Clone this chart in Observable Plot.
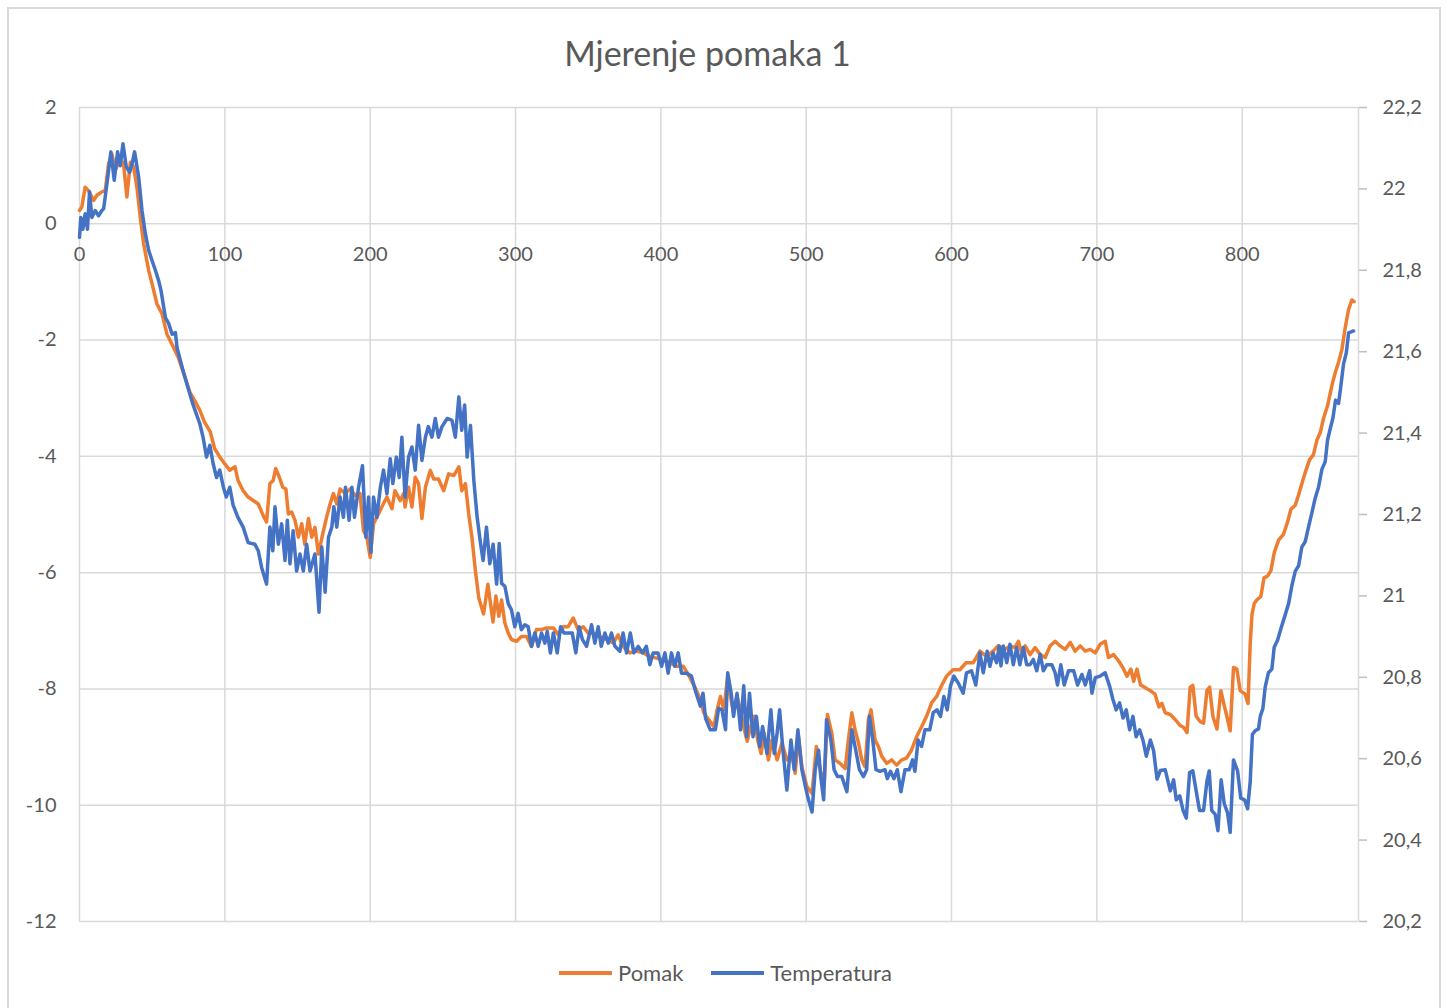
<!DOCTYPE html>
<html><head><meta charset="utf-8">
<script src="https://cdn.jsdelivr.net/npm/d3@7"></script>
<script src="https://cdn.jsdelivr.net/npm/@observablehq/plot@0.6"></script>
<style>
body{margin:0;background:#fff;font-family:Lato,"Open Sans",sans-serif;width:1448px;height:1008px;overflow:hidden;position:relative;}
#frame{position:absolute;left:7px;top:7px;width:1434px;height:1020px;border:2px solid #d9d9d9;box-sizing:border-box;}
#title{position:absolute;left:0;width:1415px;top:36px;text-align:center;font-size:34px;line-height:34px;color:#595959;}
#chart{position:absolute;left:0;top:0;}
#legend{position:absolute;left:559px;top:961px;display:flex;align-items:center;font-size:22px;line-height:24px;color:#595959;}
.sw{width:53px;height:3.5px;margin-right:6px;}
.item{display:flex;align-items:center;margin-right:28px;}
</style></head>
<body>
<div id="frame"></div>
<div id="chart"></div>
<div id="title">Mjerenje pomaka 1</div>
<div id="legend"></div>
<script>
const seriesNames = ["Pomak", "Temperatura"];
const seriesColors = ["#ED7D31", "#4472C4"];
const xTicks = [0, 100, 200, 300, 400, 500, 600, 700, 800];
const yTicks = [-12, -10, -8, -6, -4, -2, 0, 2];
const tempTicks = [20.2, 20.4, 20.6, 20.8, 21, 21.2, 21.4, 21.6, 21.8, 22, 22.2];

// Pomak: [x, pomak]
const pomak = [
[0,0.23],[1.6,0.29],[3.9,0.63],[6.2,0.57],[9.7,0.40],[12,0.49],[15.4,0.55],[17.7,0.57],[20,1.03],[22.3,1.20],[24.6,0.92],[28,1.12],[30.3,1.03],[32.6,0.46],[35,1.06],[37.2,0.98],[39.5,0.63],[41.8,0.11],[44.1,-0.34],[47.6,-0.80],[49.9,-1.03],[53.3,-1.38],[56.8,-1.55],[60.2,-1.90],[64.8,-2.13],[68,-2.3],[72,-2.6],[76,-2.9],[79.5,-3.05],
[82.8,-3.21],[86,-3.41],[90,-3.58],[93,-3.87],[96.5,-4.01],[100,-4.13],[103.4,-4.24],[107,-4.18],[109,-4.41],[112.6,-4.59],[116,-4.70],[119.5,-4.76],[123,-4.82],[126.4,-5.02],[128.7,-5.13],[131,-4.47],[133.3,-4.41],[135,-4.21],[137.5,-4.36],[139.8,-4.53],[142,-4.56],[143.7,-4.99],[146,-4.96],[148.3,-5.10],[150.6,-5.39],[152.9,-5.16],[155,-5.51],[157.5,-5.07],[159.8,-5.39],[162,-5.22],[164.4,-5.68],[167.4,-5.33],[170,-5.05],[172.4,-4.82],[174.7,-4.64],[177,-4.82],[179.3,-4.56],[182.8,-4.64],[186.2,-4.56],[189.7,-4.67],[193,-4.64],[195.4,-5.28],[197.7,-5.39],[200,-5.74],[202.3,-5.16],[205.7,-4.99],[209,-4.82],[211.5,-4.70],[215,-4.90],[217,-4.59],[220.7,-4.76],[223,-4.64],[224,-4.87],[226.4,-4.53],[228.7,-4.87],[231,-4.36],[233.3,-4.47],[235.6,-5.07],[238,-4.53],[241.4,-4.24],[243.7,-4.39],[247,-4.39],[250.6,-4.59],[254,-4.30],[257.5,-4.33],[261,-4.18],[263,-4.59],[265.5,-4.47],[267.8,-4.99],[270,-5.39],[272.4,-5.97],[274.7,-6.43],[278,-6.71],[281,-6.2],[284.5,-6.85],[286.5,-6.4],[288.5,-6.75],[290.4,-6.47],[292.7,-6.87],[295,-7.04],[297.2,-7.15],[300.7,-7.18],[304,-7.10],[307.6,-7.10],[311,-7.27],[314.4,-6.98],[318,-6.98],[321.3,-6.95],[326,-6.95],[329.4,-7.07],[332.8,-6.93],[336.2,-6.93],[339.7,-6.78],[343,-6.98],[346.6,-6.93],[350,-7.04],[353.4,-7.04],[358,-7.10],[362.6,-7.15],[367.2,-7.21],[370.6,-7.07],[374,-7.27],[378.7,-7.38],[383.3,-7.35],[387.8,-7.38],[392.4,-7.44],[397,-7.47],[401.6,-7.50],[406,-7.55],[410.8,-7.61],[415.4,-7.61],[418.8,-7.75],[423,-7.95],
[427.2,-8.18],[429.5,-8.41],[433,-8.53],[436.4,-8.65],[438.7,-8.36],[441,-8.13],[443.3,-8.36],[446,-7.78],[447.9,-8.13],[450,-8.41],[452.4,-8.13],[454.8,-8.36],[457,-8.65],[459.4,-8.90],[461.7,-8.65],[464.3,-8.47],[466.6,-8.88],[469,-9.11],[471,-8.76],[474,-9.22],[476.4,-8.88],[480,-9.22],[483.3,-8.93],[486.7,-9.22],[490,-9.11],[492.4,-9.45],[494.7,-8.82],[497,-9.34],[500.5,-9.68],[504,-9.80],[507,-8.99],[509.6,-9.39],[512.4,-9.63],[514.6,-8.44],[517.6,-8.76],[519.9,-9.22],[523.3,-9.28],[526.8,-9.37],[529,-8.88],[531.4,-8.41],[533.6,-8.70],[536,-8.93],[538.2,-9.22],[540.5,-9.34],[542.8,-8.53],[544.6,-8.36],[547.4,-8.88],[549.7,-8.99],[552,-9.16],[555.4,-9.28],[558.8,-9.22],[562.2,-9.31],[565.7,-9.22],[569,-9.19],[572.5,-9.05],[576,-8.82],[579.4,-8.65],[582.8,-8.47],[586.3,-8.24],[589.7,-8.13],[593,-7.95],[596.6,-7.78],[601,-7.67],[605.7,-7.67],[610,-7.55],[614.9,-7.55],[619.5,-7.35],[624,-7.44],[628.6,-7.35],[632,-7.26],
[636.8,-7.32],[640.2,-7.26],[643.7,-7.29],[646,-7.18],[648.3,-7.38],[650.6,-7.26],[654,-7.41],[657.5,-7.29],[661,-7.41],[664.4,-7.46],[667.8,-7.26],[671.3,-7.18],[674.7,-7.26],[678.2,-7.32],[681.6,-7.20],[685,-7.35],[688.5,-7.26],[692,-7.35],[695.4,-7.32],[698.9,-7.38],[702.3,-7.23],[705.7,-7.18],[708,-7.46],[711.5,-7.41],[715,-7.52],[718,-7.64],[720.7,-7.78],[723.4,-7.66],[725.3,-7.87],[727.6,-7.66],[730,-7.93],[733.3,-7.98],[736.8,-8.03],
[740,-8.09],[742.7,-8.31],[744.7,-8.25],[747,-8.41],[750.5,-8.44],[754,-8.53],[757.3,-8.63],[759.6,-8.66],[762,-8.75],[764.2,-7.97],[766,-7.94],[768.3,-8.47],[771,-8.56],[773.4,-8.59],[775.7,-8.03],[777.5,-7.97],[779.8,-8.47],[782.6,-8.69],[785.3,-8.03],[787,-8.22],[789.4,-8.47],[791.7,-8.72],[794,-7.63],[796.3,-7.66],[798.6,-8.03],[802,-8.09],[804,-8.25],[805.5,-7.22],[806.7,-6.72],[808.3,-6.53],[810,-6.47],[812.8,-6.41],[815,-6.09],[817.4,-6.06],[819.7,-5.97],[822,-5.66],[825,-5.44],[828.4,-5.34],[831.2,-5.13],[833.5,-4.91],[836.5,-4.84],[838.8,-4.66],[841,-4.47],[843.3,-4.28],[846.3,-4.06],[849,-3.97],[851.4,-3.72],[853.7,-3.59],[856,-3.34],[858.7,-3.13],[861.7,-2.78],[864,-2.56],[866.3,-2.38],[868.6,-2.16],[870.9,-1.78],[873.2,-1.47],[875.5,-1.31],[877,-1.34]
];

// Temperatura: [x, °C]
const temperatura = [
[0,21.881],[0.9,21.930],[2.3,21.901],[3.9,21.939],[5.5,21.901],[6.9,21.993],[8.5,21.930],[10.8,21.947],[13.1,21.934],[15.4,21.947],[16.6,21.951],[18.9,22.013],[21.6,22.091],[23.9,22.021],[26.2,22.091],[28,22.057],[29.9,22.111],[32.2,22.054],[34.5,22.041],[36.1,22.061],[37.9,22.091],[40.7,22.029],[43,21.947],[45.3,21.890],[47.6,21.849],[49.9,21.824],[52.2,21.800],[54.5,21.774],[56.1,21.750],[59.1,21.684],[61.4,21.669],[63.7,21.643],[66,21.647],[67.1,21.610],[71,21.557],[75,21.507],[78,21.471],
[82.8,21.423],[85,21.390],[87.4,21.341],[89.7,21.370],[92,21.324],[94.3,21.291],[96.5,21.309],[99,21.267],[101,21.243],[103.4,21.267],[105.7,21.223],[109,21.193],[112.6,21.169],[116,21.131],[120.7,21.127],[123,21.111],[125.3,21.070],[128.7,21.029],[131,21.169],[133,21.111],[134.5,21.219],[136.8,21.127],[139.1,21.177],[141.4,21.087],[143,21.186],[144.8,21.079],[147,21.160],[149.4,21.061],[151.7,21.103],[154,21.061],[156.3,21.127],[158.6,21.061],[162,21.103],[164.8,20.960],[166.7,21.120],[169,21.009],[171.3,21.144],[173.6,21.169],[175,21.219],[177,21.169],[179.3,21.243],[181.6,21.193],[183,21.267],[185.5,21.186],[187.4,21.267],[189.2,21.193],[192,21.267],[194.7,21.320],[197,21.144],[198.9,21.243],[200.5,21.107],[202.3,21.243],[204.6,21.193],[207,21.267],[209.2,21.309],[211.5,21.251],[213.8,21.337],[215.6,21.276],[218,21.341],[220,21.291],[221.8,21.390],[224,21.243],[226.4,21.341],[228.7,21.366],[231,21.309],[233.3,21.419],[235.6,21.333],[238,21.390],[240,21.416],[242.5,21.390],[244.8,21.436],[247,21.390],[249.4,21.416],[253,21.436],[256.3,21.431],[258.6,21.390],[261,21.489],[263,21.407],[265,21.469],[266.7,21.341],[269,21.419],[271.3,21.284],[273.6,21.193],[276,21.127],[277.7,21.087],[280,21.169],[282.3,21.079],[284.6,21.127],[287,21.029],[288.8,21.129],[290.4,21.031],[292.7,21.023],[295,20.981],[297.2,20.966],[299.5,20.924],[301.8,20.957],[304,20.917],[306.4,20.929],[308.7,20.924],[311,20.876],[313.3,20.909],[315.6,20.876],[317.9,20.909],[320.2,20.884],[321.8,20.913],[324,20.860],[326,20.909],[328.7,20.860],[331,20.924],[333.3,20.909],[336.2,20.909],[339,20.909],[341.5,20.860],[343.8,20.924],[346,20.893],[348.9,20.876],[352.3,20.929],[354.6,20.884],[356.9,20.924],[359,20.876],[361.5,20.909],[363.8,20.884],[366,20.909],[368.4,20.876],[371.8,20.864],[374,20.909],[376.4,20.860],[379,20.909],[381.4,20.860],[384.4,20.876],[387.4,20.860],[390,20.876],[392.4,20.831],[394.7,20.860],[398,20.860],[400.5,20.827],[402.8,20.860],[405,20.810],[407.3,20.860],[409.6,20.827],[411.9,20.860],[414.2,20.810],[417.6,20.810],[421,20.803],[424,20.764],
[427.2,20.729],[429,20.761],[430.7,20.700],[434,20.671],[437.5,20.671],[439.8,20.724],[442,20.720],[444.5,20.671],[446,20.811],[448.4,20.761],[450,20.704],[452.4,20.761],[454.8,20.671],[457,20.779],[459,20.654],[461,20.761],[463.4,20.654],[465.7,20.704],[468,20.630],[470,20.679],[473,20.613],[475.7,20.720],[478,20.613],[480,20.663],[481.7,20.720],[484,20.621],[486.7,20.523],[489.5,20.646],[491.8,20.573],[494.3,20.671],[497,20.573],[500,20.523],[501.6,20.499],[504,20.469],[506.2,20.573],[508.5,20.621],[510,20.556],[512,20.499],[514,20.696],[517,20.646],[519.2,20.573],[521.5,20.556],[524.5,20.556],[528,20.519],[531.4,20.671],[533.6,20.630],[536.6,20.573],[539.4,20.556],[541.6,20.573],[543.5,20.704],[545.8,20.646],[548,20.573],[550.8,20.569],[554.2,20.573],[555.8,20.551],[558,20.569],[560.4,20.551],[562.7,20.573],[565.2,20.519],[568,20.573],[570.9,20.573],[573.2,20.597],[574.8,20.569],[577,20.646],[579.4,20.630],[581.7,20.671],[585,20.671],[587.4,20.713],[590,20.720],[592.4,20.704],[594.7,20.753],[597,20.720],[599.3,20.779],[601.6,20.803],[604.6,20.786],[608,20.761],[610.3,20.811],[613.7,20.816],[616.7,20.781],[619.5,20.860],[621.8,20.811],[624.5,20.864],[626.4,20.827],[628.6,20.860],[631,20.836],[632.8,20.877],[634,20.828],
[635.6,20.877],[638,20.836],[640.2,20.881],[642.5,20.831],[644.8,20.873],[647,20.831],[649.4,20.873],[651.7,20.831],[654,20.831],[656.3,20.844],[658.6,20.816],[661,20.856],[663.2,20.816],[665.5,20.831],[669,20.831],[671.3,20.811],[672.9,20.781],[675.2,20.831],[677.5,20.781],[680.5,20.816],[684,20.816],[686.7,20.781],[689.7,20.807],[692,20.781],[695,20.816],[696.6,20.761],[698.9,20.799],[702.3,20.803],[705.7,20.811],[708.7,20.779],[711,20.746],[713.3,20.720],[715.6,20.737],[718,20.700],[720.2,20.720],[722.5,20.671],[724.8,20.704],[727,20.654],[729.4,20.671],[731.7,20.646],[734,20.606],[736.8,20.646],[739,20.620],[741.4,20.550],[743.7,20.571],[747,20.573],[750.5,20.521],[752.8,20.548],[754.6,20.499],[757,20.509],[759.3,20.473],[761.5,20.454],[763.8,20.566],[766,20.570],[768.3,20.521],[770.6,20.473],[773.4,20.473],[775.7,20.544],[777.3,20.570],[779,20.473],[781.4,20.463],[783.3,20.423],[785.5,20.548],[787.6,20.490],[789.9,20.467],[791.7,20.419],[794,20.597],[796.8,20.570],[799,20.503],[801.6,20.499],[803.7,20.477],[805.5,20.544],[807,20.660],[809,20.669],[811.2,20.673],[812.4,20.704],[814.2,20.723],[815.8,20.776],[818,20.811],[820.4,20.820],[822,20.874],[824.3,20.891],[826.6,20.919],[829.6,20.954],[831.9,20.981],[834.2,21.026],[836.5,21.061],[838.8,21.074],[841,21.120],[843.3,21.133],[845.6,21.169],[847.9,21.204],[850.2,21.240],[852.5,21.267],[854.8,21.311],[857.1,21.330],[858.7,21.383],[860.5,21.410],[862.4,21.437],[864.2,21.481],[866.3,21.473],[867.9,21.517],[869.7,21.570],[871.6,21.597],[873.2,21.646],[876.6,21.651]
];

// secondary axis: temperature mapped onto the primary (pomak) scale
const tMin = 20.2, tMax = 22.2;
const toP = t => Math.round((-12 + (t - tMin) * (14 / (tMax - tMin))) * 1e6) / 1e6;
const toT = p => tMin + (p + 12) * ((tMax - tMin) / 14);
const fmtT = p => String(Math.round(toT(p) * 10) / 10).replace(".", ",");

const grid = {stroke: "#d9d9d9", strokeOpacity: 1, strokeWidth: 1.5};
const chart = Plot.plot({
  width: 1448, height: 940,
  marginLeft: 79, marginRight: 90, marginTop: 107, marginBottom: 19,
  x: {domain: [0, 880], axis: null},
  y: {domain: [-12, 2], axis: null},
  style: {fontFamily: "Lato, 'Open Sans', sans-serif", fontSize: "20px", color: "#595959", background: "transparent", overflow: "visible"},
  marks: [
    Plot.gridY(yTicks, grid),
    Plot.gridX(xTicks.filter(d => d > 0), grid),
    Plot.ruleX([0, 880], grid),
    Plot.axisY(yTicks, {anchor: "left", tickSize: 0, tickPadding: 23, fontSize: 20, fill: "#595959", tickFormat: d => String(d)}),
    Plot.axisY(tempTicks.map(toP), {anchor: "right", tickSize: 8, tickPadding: 16, stroke: "#bfbfbf", strokeWidth: 1.5, fill: "#595959", fontSize: 20, tickFormat: fmtT}),
    Plot.text(xTicks, {x: d => d, y: 0, dy: 31, text: d => String(d), fontSize: 20, fill: "#595959"}),
    Plot.line(pomak, {x: d => d[0], y: d => d[1], stroke: seriesColors[0], strokeWidth: 3.5}),
    Plot.line(temperatura, {x: d => d[0], y: d => toP(d[1]), stroke: seriesColors[1], strokeWidth: 3.5})
  ]
});
document.getElementById("chart").appendChild(chart);

const legend = document.getElementById("legend");
seriesNames.forEach((n, i) => {
  const it = document.createElement("div");
  it.className = "item";
  it.innerHTML = `<div class="sw" style="background:${seriesColors[i]}"></div><span>${n}</span>`;
  legend.appendChild(it);
});
</script>
</body></html>
